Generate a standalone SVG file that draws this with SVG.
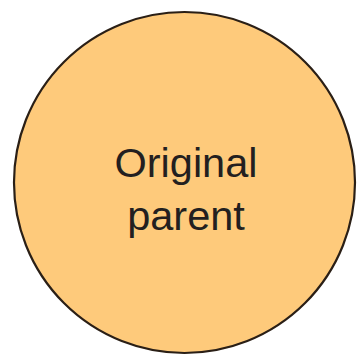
<svg xmlns="http://www.w3.org/2000/svg" width="359" height="356" viewBox="0 0 359 356">
<style>
.node{fill:#FECA7B;stroke:#2a1f16;stroke-width:2.2}
.lbl{font-family:"Liberation Sans",Arial,sans-serif;font-size:41.5px;fill:#231f20;text-anchor:middle}
</style>
<rect width="359" height="356" fill="#ffffff"/>
<g id="original-parent">
<circle class="node" cx="184.5" cy="182.5" r="170.5"/>
<text class="lbl" x="186" y="177">Original</text>
<text class="lbl" x="186" y="230">parent</text>
</g>
<g id="connectors"></g>
</svg>
